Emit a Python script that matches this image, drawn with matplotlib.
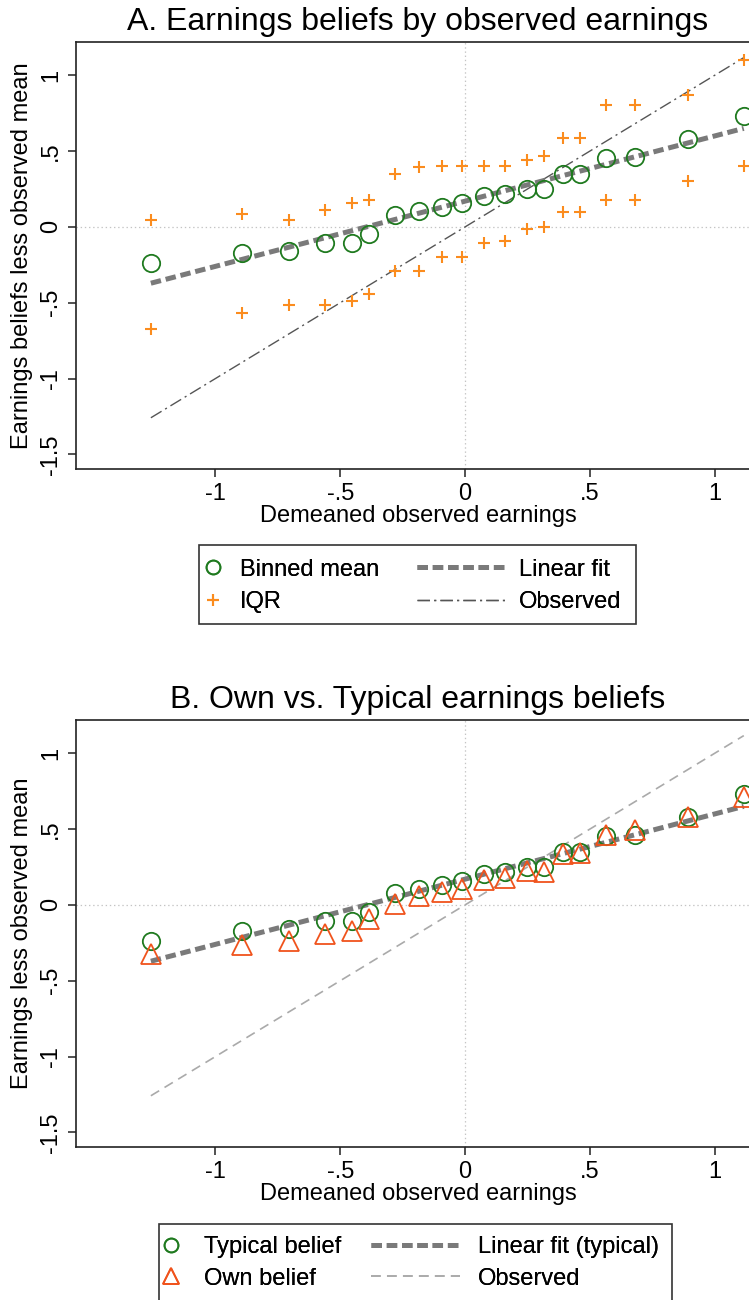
import matplotlib
matplotlib.use("Agg")
import matplotlib.pyplot as plt
from matplotlib.lines import Line2D
from matplotlib.patches import Rectangle

plt.rcParams["font.family"] = ["Liberation Sans", "DejaVu Sans"]
plt.rcParams["lines.scale_dashes"] = False

# binned data
bin_x = [-1.259, -0.894, -0.706, -0.562, -0.453, -0.384, -0.282, -0.186, -0.094, -0.013,
         0.077, 0.161, 0.250, 0.315, 0.393, 0.459, 0.564, 0.683, 0.892, 1.117]
mean_belief = [-0.241, -0.171, -0.158, -0.109, -0.103, -0.048, 0.077, 0.103, 0.131, 0.158,
               0.201, 0.219, 0.252, 0.252, 0.350, 0.346, 0.453, 0.464, 0.577, 0.729]
iqr_hi = [0.044, 0.088, 0.044, 0.114, 0.158, 0.175, 0.350, 0.394, 0.400, 0.400,
          0.400, 0.400, 0.442, 0.470, 0.584, 0.584, 0.805, 0.805, 0.871, 1.099]
iqr_lo = [-0.672, -0.565, -0.514, -0.514, -0.488, -0.444, -0.289, -0.289, -0.197, -0.197,
          -0.109, -0.092, -0.015, 0.0, 0.098, 0.098, 0.175, 0.175, 0.306, 0.402]
own_belief = [-0.325, -0.262, -0.240, -0.195, -0.170, -0.090, 0.008, 0.062, 0.084, 0.105,
              0.165, 0.178, 0.226, 0.215, 0.336, 0.343, 0.464, 0.495, 0.582, 0.714]
fit_slope = 0.43
fit_intercept = 0.17

xticks = [-1, -0.5, 0, 0.5, 1]
xticklabels = ["-1", "-.5", "0", ".5", "1"]
yticks = [-1.5, -1, -0.5, 0, 0.5, 1]
yticklabels = ["-1.5", "-1", "-.5", "0", ".5", "1"]

W, H = 749, 1300
GREEN = "#1f7a1f"
ORANGE = "#fb8c1e"
RED = "#f0531c"
FITGRAY = "#7a7a7a"
FS = 17

fig = plt.figure(figsize=(W / 100, H / 100), dpi=100)


def setup(ax, title, ylabel):
    ax.set_xlim(-1.559, 1.182)
    ax.set_ylim(-1.597, 1.22)
    ax.axhline(0, color="#c4c4c4", lw=0.9, dashes=(1, 2), zorder=0)
    ax.axvline(0, color="#c4c4c4", lw=0.9, dashes=(1, 2), zorder=0)
    ax.set_xticks(xticks)
    ax.set_xticklabels(xticklabels, fontsize=FS)
    ax.set_yticks(yticks)
    ax.set_yticklabels(yticklabels, fontsize=FS, rotation=90, va="center")
    ax.tick_params(length=6, width=1.1, color="#222222", pad=4)
    for s in ax.spines.values():
        s.set_linewidth(1.2)
        s.set_color("#222222")
    ax.set_title(title, fontsize=23, pad=8.5)
    ax.set_xlabel("Demeaned observed earnings", fontsize=FS, labelpad=0)
    ax.set_ylabel(ylabel, fontsize=FS)
    ax.yaxis.set_label_coords(-0.063, 0.5)


fx = [min(bin_x), max(bin_x)]
fy = [fit_intercept + fit_slope * v for v in fx]

# panel A
axA = fig.add_axes([76 / W, 1 - 469 / H, 684 / W, 427 / H])
setup(axA, "A. Earnings beliefs by observed earnings", "Earnings beliefs less observed mean")
axA.plot(fx, fx, color="#555555", lw=1.0, dashes=(9, 3, 1.5, 3))
axA.plot(fx, fy, color=FITGRAY, lw=3.6, dashes=(7.5, 3.5))
axA.plot(bin_x, iqr_hi, ls="none", marker="+", ms=9, mew=1.5, color=ORANGE)
axA.plot(bin_x, iqr_lo, ls="none", marker="+", ms=9, mew=1.5, color=ORANGE)
axA.plot(bin_x, mean_belief, ls="none", marker="o", ms=12.5, mew=1.3, mfc="none", mec=GREEN)

# panel B
axB = fig.add_axes([76 / W, 1 - 1147 / H, 684 / W, 427 / H])
setup(axB, "B. Own vs. Typical earnings beliefs", "Earnings less observed mean")
axB.plot(fx, fx, color="#aaaaaa", lw=1.2, dashes=(7, 4.5))
axB.plot(fx, fy, color=FITGRAY, lw=3.6, dashes=(7.5, 3.5))
axB.plot(bin_x, mean_belief, ls="none", marker="o", ms=12.5, mew=1.3, mfc="none", mec=GREEN)
axB.plot(bin_x, own_belief, ls="none", marker="^", ms=14, mew=1.3, mfc="none", mec=RED)


def legend_col(handles, labels, x0, yc, hl, htp, ls):
    lg = fig.legend(handles, labels, loc="center left", bbox_to_anchor=(x0 / W, 1 - yc / H),
                    frameon=False, borderpad=0, borderaxespad=0, handlelength=hl,
                    handletextpad=htp, labelspacing=ls, fontsize=FS)
    fig.add_artist(lg)
    return lg


circ = Line2D([], [], ls="none", marker="o", ms=10, mew=1.3, mfc="none", mec=GREEN)
plus = Line2D([], [], ls="none", marker="+", ms=8, mew=1.5, color=ORANGE)
tri = Line2D([], [], ls="none", marker="^", ms=12, mew=1.3, mfc="none", mec=RED)
fitl = Line2D([], [], color=FITGRAY, lw=3.6, dashes=(7.5, 3.5))
obsA = Line2D([], [], color="#555555", lw=1.0, dashes=(9, 3, 1.5, 3))
obsB = Line2D([], [], color="#aaaaaa", lw=1.2, dashes=(7, 4.5))

legend_col([circ, plus], ["Binned mean", "IQR"], 203.6, 586, 0.8, 0.74, 0.45)
legend_col([fitl, obsA], ["Linear fit", "Observed"], 417, 586, 3.73, 0.6, 0.45)
fig.add_artist(Rectangle((199 / W, 1 - 624 / H), 437 / W, 79 / H, transform=fig.transFigure,
                         fill=False, ec="#333333", lw=1.2))

legend_col([circ, tri], ["Typical belief", "Own belief"], 161.6, 1263, 0.8, 1.0, 0.4)
legend_col([fitl, obsB], ["Linear fit (typical)", "Observed"], 371, 1263, 3.77, 0.76, 0.4)
fig.add_artist(Rectangle((159 / W, 1 - 1303 / H), 513 / W, 79 / H, transform=fig.transFigure,
                         fill=False, ec="#333333", lw=1.2))

fig.savefig("out.png", dpi=100)
